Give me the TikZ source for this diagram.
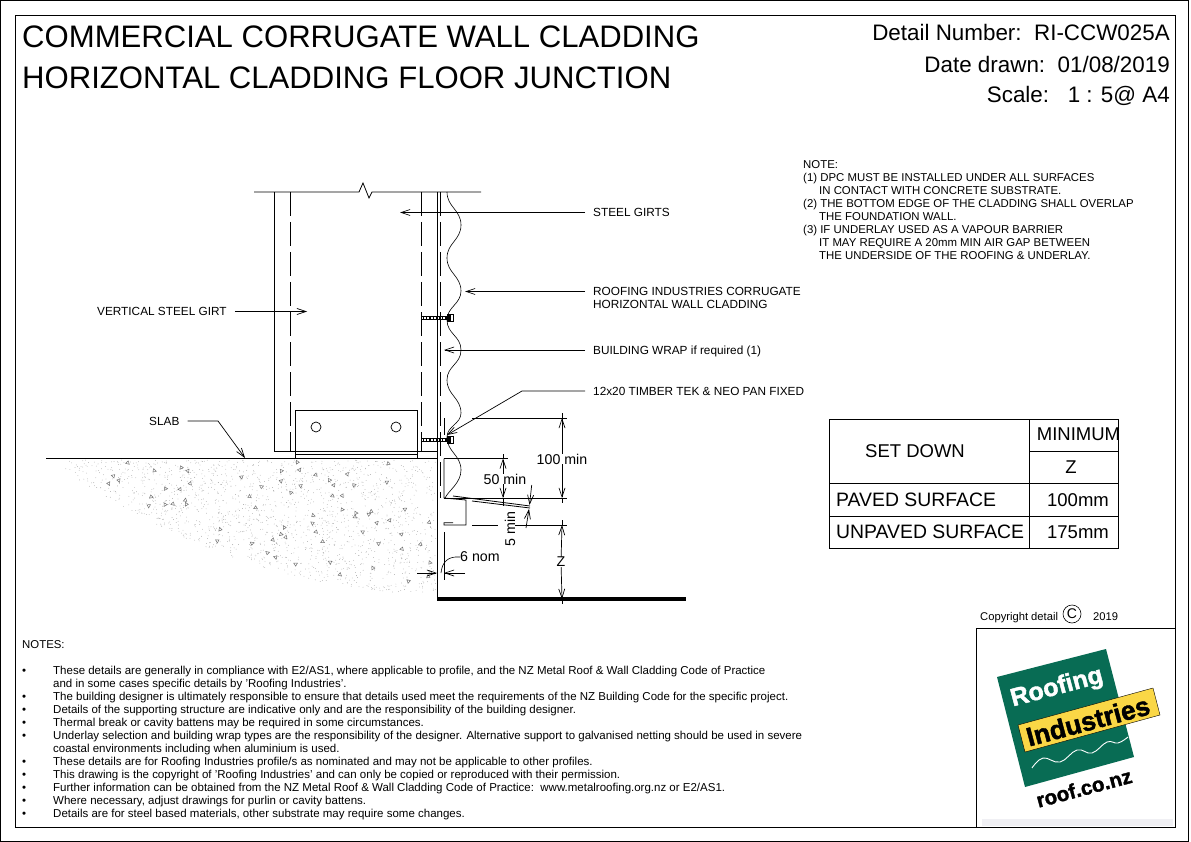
\documentclass[tikz,border=0pt]{standalone}
\usepackage{fontspec}
\setmainfont{Liberation Sans}
\newfontfamily\logofont[FakeBold=1.6]{Liberation Sans Bold}
\usetikzlibrary{arrows.meta,positioning}
\definecolor{roofgreen}{RGB}{8,108,84}
\definecolor{roofyellow}{RGB}{250,215,70}
\tikzstyle{titletxt} = [anchor=west,inner sep=0,font=\fontsize{31.1}{34}\selectfont]
\tikzstyle{headtxt} = [anchor=east,inner sep=0,font=\fontsize{22.4}{24}\selectfont]
\tikzstyle{note} = [anchor=west,inner sep=0,text height=8.4pt,text depth=0pt,font=\fontsize{11.4}{13}\selectfont]
\tikzstyle{bnote} = [note,font=\fontsize{11.5}{13}\selectfont]
\tikzstyle{small} = [anchor=west,inner sep=0,text height=8.4pt,text depth=0pt,font=\fontsize{11.8}{13}\selectfont]
\tikzstyle{dim} = [inner sep=0,font=\fontsize{14.2}{16}\selectfont]
\tikzstyle{cell} = [inner sep=0,font=\fontsize{18.5}{22}\selectfont]
\tikzstyle{cellw} = [anchor=west,inner sep=0,font=\fontsize{19.4}{22}\selectfont]
\tikzstyle{aro} = [-{Straight Barb[length=9pt,width=6pt]},line width=0.7pt]
\tikzstyle{lead} = [aro,shorten <=8pt]
\tikzstyle{girt} = [dash pattern=on 24pt off 6pt,line width=0.8pt]
\tikzstyle{girth} = [dash pattern=on 13pt off 8pt,line width=0.8pt]
\tikzstyle{line} = [line width=0.8pt]
\tikzstyle{thin} = [line width=0.6pt]
\begin{document}
\begin{tikzpicture}[x=1pt,y=-1pt]
  \useasboundingbox (0,0) rectangle (1191,842);
  % frame
  \draw [line] (0.5,0.5) rectangle (1188.5,841);
  \draw [line] (15,15) rectangle (1175,827);
  \draw [line] (976,827) -- (976,628) -- (1175,628);

  \node (title1) [titletxt] at (22,37) {COMMERCIAL CORRUGATE WALL CLADDING};
  \node (title2) [titletxt] at (22,78) {HORIZONTAL CLADDING FLOOR JUNCTION};
  \node (number) [headtxt] at (1170,32) {Detail Number:\ \ RI-CCW025A};
  \node (drawn) [headtxt] at (1170,64) {Date drawn:\ \ 01/08/2019};
  \node (scale) [headtxt] at (1170,96) {Scale:\ \ \ 1 : 5@ A4};

  % notes top right
  \node (n0) [note] at (803,164) {NOTE:};
  \node (n1) [note] at (803,177) {(1) DPC MUST BE INSTALLED UNDER ALL SURFACES};
  \node (n2) [note] at (819,190) {IN CONTACT WITH CONCRETE SUBSTRATE.};
  \node (n3) [note] at (803,203) {(2) THE BOTTOM EDGE OF THE CLADDING SHALL OVERLAP};
  \node (n4) [note] at (819,216) {THE FOUNDATION WALL.};
  \node (n5) [note] at (803,229) {(3) IF UNDERLAY USED AS A VAPOUR BARRIER};
  \node (n6) [note] at (819,242) {IT MAY REQUIRE A 20mm MIN AIR GAP BETWEEN};
  \node (n7) [note] at (819,255) {THE UNDERSIDE OF THE ROOFING \& UNDERLAY.};

  % concrete
  \pgfmathsetseed{7}
  \foreach \i in {1,...,2600} {
    \pgfmathsetmacro{\px}{48+rnd*388}
    \pgfmathsetmacro{\py}{460+rnd*135}
    \pgfmathparse{(\py-459)<135*(1-((437-\px)/391)^2)?1:0}
    \ifnum\pgfmathresult=1 \fill [black!35] (\px,\py) circle (0.4pt); \fi
  }
  \foreach \i in {1,...,110} {
    \pgfmathsetmacro{\px}{60+rnd*370}
    \pgfmathsetmacro{\py}{464+rnd*128}
    \pgfmathsetmacro{\pa}{rnd*360}
    \pgfmathparse{(\py-459)<130*(1-((437-\px)/391)^2)?1:0}
    \ifnum\pgfmathresult=1 \draw [black!55,line width=0.5pt,rotate around={\pa:(\px,\py)}] (\px,\py) -- ++(3.5,0) -- ++(-1.5,-3.2) -- cycle; \fi
  }

  % girt
  \draw [line] (254,192) -- (359,192) -- (363,183) -- (369,198) -- (372,192) -- (481,192);
  \draw [line] (274,192) -- (274,451) -- (295,451);
  \draw [line] (417,451) -- (437,451);
  \draw [girt] (290,192) -- (290,451);
  \draw [girt] (421.5,192) -- (421.5,441);
  \draw [line] (421.5,441) -- (421.5,451);
  \draw [girth] (295,451) -- (417,451);
  \draw [line] (437,192) -- (437,600);
  \draw [girt] (440,192) -- (440,498);
  % slab line
  \draw [line] (46,458.5) -- (437,458.5);
  % bracket
  \draw [line] (295,410) rectangle (417,451);
  \draw [line] (295,451) -- (295,458) (417,451) -- (417,458) (295,454.5) -- (417,454.5);
  \node (hole1) [circle,draw,line width=0.7pt,minimum size=10pt,inner sep=0] at (316,427) {};
  \node (hole2) [circle,draw,line width=0.7pt,minimum size=10pt,inner sep=0] at (396,427) {};

  % corrugate
  \draw [thin] (447,192) .. controls (447,207) and (461,210) .. (461,225)
    .. controls (461,240) and (447,243) .. (447,258) .. controls (447,273) and (461,276) .. (461,291)
    .. controls (461,304) and (447,307) .. (447,320) .. controls (447,334) and (461,336) .. (461,350)
    .. controls (461,364) and (447,366) .. (447,380) .. controls (447,395) and (461,398) .. (461,413)
    .. controls (461,424) and (447,426) .. (447,437) .. controls (447,452) and (461,455) .. (461,470)
    .. controls (461,483) and (449,490) .. (445,498);
  % flashing
  \draw [line] (444,458.5) -- (444,498) -- (466,500) -- (466,525) -- (444,525) -- (444,522.7) -- (453,522.7);
  \draw [line] (444,532) -- (444,580);
  \draw [line] (444,418) -- (444,435);
  \draw [line] (453,496) -- (530,506);
  \draw [line] (472,501) -- (530,508);

  % fasteners
  \foreach \fy/\fn in {318/fixa,440/fixb} {
    \draw [line width=0.7pt] (421.5,\fy-1.5) rectangle (447,\fy+1.5);
    \draw [line width=1.6pt,dash pattern=on 1.2pt off 2pt] (423,\fy) -- (447,\fy);
    \fill (447,\fy-4) rectangle (450,\fy+4);
    \draw [line] (450,\fy-3.5) rectangle (453,\fy+3.5);
  }

  % floor
  \draw [line width=3.2pt] (437,599) -- (686,599);

  % dimensions
  \draw [line] (472,418) -- (567,418);
  \draw [line] (444,458.5) -- (508,458.5);
  \draw [line] (444,498) -- (567,498);
  \draw [line] (472,525) -- (498,525) (515,525) -- (567,525);
  \coordinate (d100a) at (562,418);
  \coordinate (d100b) at (562,498);
  \coordinate (dza) at (562,525);
  \coordinate (dzb) at (562,599);
  \node (d100) [dim] at (562,459) {100 min};
  \node (dz) [dim] at (561,562) {Z};
  \draw [aro] (d100) -- (d100a);
  \draw [aro] (d100) -- (d100b);
  \draw [aro] (dz) -- (dza);
  \draw [aro] (dz) -- (dzb);
  \draw [thin] (d100a) -- ++(0,-5) (d100b) -- ++(0,5) (dza) -- ++(0,-5) (dzb) -- ++(0,5);
  \node (d50) [dim] at (505,479) {50 min};
  \coordinate (d50a) at (503,458.5);
  \coordinate (d50b) at (503,498);
  \draw [aro] (d50.north -| d50a) -- (d50a);
  \draw [aro] (d50.south -| d50b) -- (d50b);
  \draw [thin] (d50a) -- ++(0,-5) (d50b) -- ++(0,8);
  \node (d5) [dim,rotate=90] at (510,529) {5 min};
  \coordinate (d5top) at (531.7,485);
  \coordinate (d5bot) at (526,528);
  \coordinate (d5a) at (529.5,505);
  \coordinate (d5b) at (529,509);
  \draw [aro] (d5top) -- (d5a);
  \draw [aro] (d5bot) -- (d5b);
  \node (d6) [dim,anchor=west] at (460,557) {6 nom};
  \coordinate (d6a) at (437,573);
  \coordinate (d6b) at (444,573);
  \draw [thin] (d6.west) .. controls (448,556) and (442,562) .. (441,573);
  \draw [aro] (417,573) -- (d6a);
  \draw [aro] (465,573) -- (d6b);

  % leaders
  \node (lgirts) [small] at (593,212.5) {STEEL GIRTS};
  \coordinate (tgirts) at (400,212.5);
  \draw [lead] (lgirts) -- (tgirts);
  \node (lclad) [small] at (593,291.5) {ROOFING INDUSTRIES CORRUGATE};
  \node (lclad2) [small] at (593,304.5) {HORIZONTAL WALL CLADDING};
  \coordinate (tclad) at (465,291.5);
  \draw [lead] (lclad) -- (tclad);
  \node (lwrap) [small] at (593,350) {BUILDING WRAP if required (1)};
  \coordinate (twrap) at (444,350);
  \draw [lead] (lwrap) -- (twrap);
  \node (lfix) [small] at (593,391) {12x20 TIMBER TEK \& NEO PAN FIXED};
  \coordinate (tfix) at (447,435);
  \draw [lead] (lfix) -- (522,391) -- (tfix);
  \node (lvert) [small] at (97,311.5) {VERTICAL STEEL GIRT};
  \coordinate (tvert) at (307,311.5);
  \draw [lead] (lvert) -- (tvert);
  \node (lslab) [small] at (149,421) {SLAB};
  \coordinate (tslab) at (245,458);
  \draw [lead] (lslab) -- (218,421) -- (tslab);

  % table
  \draw [line] (829.5,419.5) rectangle (1118,548);
  \draw [line] (1029,419.5) -- (1029,548);
  \draw [line] (1029,451) -- (1118,451);
  \draw [line] (829.5,483) -- (1118,483);
  \draw [line] (829.5,516) -- (1118,516);
  \node (setdown) [cell] at (915,451) {SET DOWN};
  \node (minimum) [cell] at (1078.5,434) {MINIMUM};
  \node (zcell) [cell] at (1071,467) {Z};
  \node (paved) [cellw] at (836,499.5) {PAVED SURFACE};
  \node (pavedv) [cell] at (1078,500) {100mm};
  \node (unpaved) [cellw] at (836,531.5) {UNPAVED SURFACE};
  \node (unpavedv) [cell] at (1078,532) {175mm};

  % copyright
  \node (copy) [small,font=\fontsize{11.2}{13}\selectfont] at (980,616) {Copyright detail};
  \node (copyc) [circle,draw,line width=0.6pt,minimum size=18pt,inner sep=0,font=\fontsize{14}{15}\selectfont] at (1072,614) {C};
  \node (copyy) [small,font=\fontsize{11.2}{13}\selectfont] at (1093,616) {2019};

  % logo
  \fill [blue!30!black!6] (982,819) rectangle (1173,826);
  \fill [roofgreen] (997,677) -- (1106,649) -- (1134,757) -- (1025,787) -- cycle;
  \fill [roofyellow,draw=black,line width=0.4pt] (1018,725) -- (1153,688) -- (1160,715) -- (1025,752) -- cycle;
  \node (roofing) [rotate=15,inner sep=0,white,font=\logofont\fontsize{25}{26}\selectfont] at (1057,688) {Roofing};
  \node (industries) [rotate=15,inner sep=0,black,font=\logofont\fontsize{26.5}{28}\selectfont] at (1088,721) {Industries};
  \node (roofco) [rotate=15,inner sep=0,black,font=\logofont\fontsize{20.5}{22}\selectfont] at (1084,788) {roof.co.nz};
  \draw [white,line width=0.9pt] plot [smooth,tension=0.7] coordinates {(1032,768) (1043,758) (1060,762) (1077,750) (1092,753) (1107,742) (1118,743) (1128,737)};

  % bottom notes
  \node (nh) [note] at (22,644) {NOTES:};
  \foreach \ty/\tx/\tb in {
    670/{These details are generally in compliance with E2/AS1, where applicable to profile, and the NZ Metal Roof \& Wall Cladding Code of Practice}/1,
    683/{and in some cases specific details by 'Roofing Industries'.}/0,
    696/{The building designer is ultimately responsible to ensure that details used meet the requirements of the NZ Building Code for the specific project.}/1,
    709/{Details of the supporting structure are indicative only and are the responsibility of the building designer.}/1,
    722/{Thermal break or cavity battens may be required in some circumstances.}/1,
    735/{Underlay selection and building wrap types are the responsibility of the designer. Alternative support to galvanised netting should be used in severe}/1,
    748/{coastal environments including when aluminium is used.}/0,
    761/{These details are for Roofing Industries profile/s as nominated and may not be applicable to other profiles.}/1,
    774/{This drawing is the copyright of 'Roofing Industries' and can only be copied or reproduced with their permission.}/1,
    787/{Further information can be obtained from the NZ Metal Roof \& Wall Cladding Code of Practice:\ \ www.metalroofing.org.nz or E2/AS1.}/1,
    800/{Where necessary, adjust drawings for purlin or cavity battens.}/1,
    813/{Details are for steel based materials, other substrate may require some changes.}/1} {
    \node (line\ty) [bnote] at (53,\ty) {\tx};
    \ifnum\tb=1 \node (dot\ty) [bnote] at (22,\ty) {•}; \fi
  }
\end{tikzpicture}
\end{document}
